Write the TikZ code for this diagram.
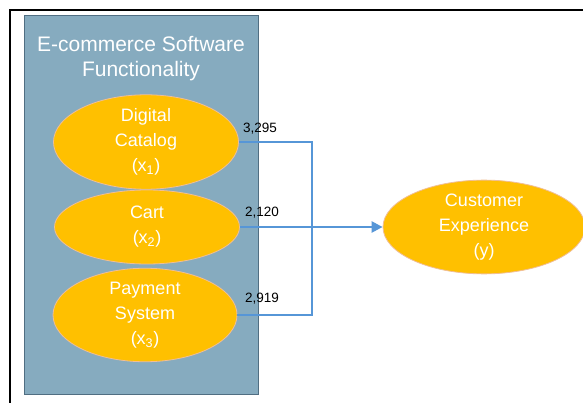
\documentclass[tikz,border=0pt]{standalone}
\usepackage{fontspec}
\setmainfont{Liberation Sans}
\usetikzlibrary{arrows.meta,shapes.geometric}
\definecolor{panel}{RGB}{134,171,191}
\definecolor{panelborder}{RGB}{80,110,130}
\definecolor{gold}{RGB}{255,192,0}
\definecolor{goldborder}{RGB}{240,190,150}
\definecolor{link}{RGB}{86,150,215}
\tikzset{
  var/.style={ellipse, fill=gold, draw=goldborder, line width=0.8pt, inner sep=0pt,
    align=center, text=white, font=\fontsize{18}{25}\selectfont},
  link/.style={draw=link, line width=2.4pt},
  coef/.style={font=\fontsize{13.5}{16}\selectfont, text=black, inner sep=0pt}
}
\begin{document}
\begin{tikzpicture}[x=1pt,y=-1pt]
\useasboundingbox (0,0) rectangle (583,403);
\fill[white] (0,0) rectangle (583,403);
\draw[line width=2pt,black] (10,403) -- (10,10) -- (583,10);
\node[draw=panelborder, fill=panel, line width=1pt, minimum width=234pt, minimum height=378pt, inner sep=0pt] (panel) at (141,205) {};
\node[text=white, align=center, font=\fontsize{21}{25}\selectfont] (title) at (141,59) {E-commerce Software\\Functionality};
\node[var, minimum width=185pt, minimum height=74pt] (x1) at (146,142) {Digital\\Catalog\\(x\textsubscript{1})};
\node[var, minimum width=185pt, minimum height=74pt] (x2) at (147,227) {Cart\\(x\textsubscript{2})};
\node[var, minimum width=184pt, minimum height=82pt] (x3) at (145,315) {Payment\\System\\(x\textsubscript{3})};
\node[var, minimum width=202pt, minimum height=87pt] (y) at (484,227) {Customer\\Experience\\(y)};
\coordinate (j) at (312,227);
\draw[link] (x1.east) -| (j) |- (x3.east);
\draw[link, -{Triangle[length=11pt,width=11pt]}] (x2.east) -- (y.west);
\node[coef] (c1) at (260,129) {3,295};
\node[coef] (c2) at (262,213) {2,120};
\node[coef] (c3) at (262,299) {2,919};
\end{tikzpicture}
\end{document}
